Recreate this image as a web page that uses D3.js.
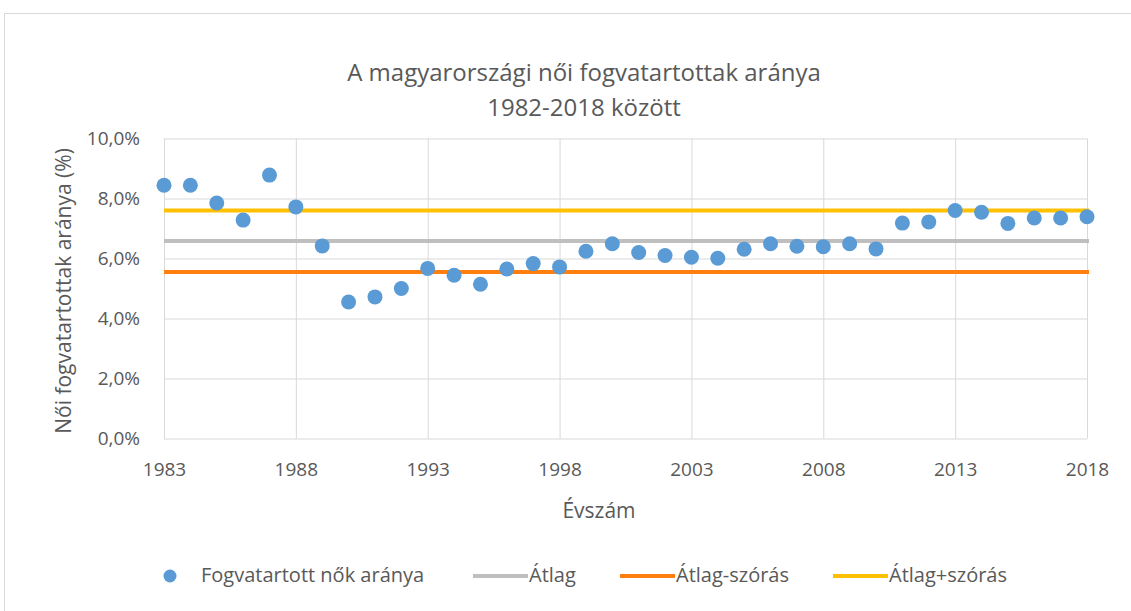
<!DOCTYPE html>
<html><head><meta charset="utf-8">
<script src="https://cdn.jsdelivr.net/npm/d3@7"></script>
<style>body{margin:0;background:#fff}text{font-family:"Open Sans",sans-serif;fill:#595959}</style>
</head><body><svg id="c" width="1131" height="611"></svg>
<script>
const years = d3.range(1983, 2019);
const values = [8.44,8.44,7.85,7.28,8.78,7.72,6.42,4.55,4.72,5.0,5.67,5.44,5.14,5.65,5.83,5.72,
  6.24,6.49,6.2,6.1,6.04,6.01,6.31,6.49,6.41,6.39,6.49,6.32,7.18,7.22,7.6,7.54,7.17,7.35,7.35,7.39];
const mean = 6.58, meanMinusSd = 5.55, meanPlusSd = 7.6;
const xTicks = [1983,1988,1993,1998,2003,2008,2013,2018];
const yTicks = [0,2,4,6,8,10];
const titleLines = ["A magyarországi női fogvatartottak aránya","1982-2018 között"];
const legendItems = ["Fogvatartott nők aránya","Átlag","Átlag-szórás","Átlag+szórás"];
const colors = {dot:"#5b9bd5", mean:"#bfbfbf", minus:"#ff7f0e", plus:"#ffc000"};

const svg = d3.select("#c");
svg.append("rect").attr("x",4.5).attr("y",13.5).attr("width",1140).attr("height",620).attr("fill","none").attr("stroke","#d9d9d9");
const x = d3.scaleLinear().domain([1983,2018]).range([164,1087]);
const y = d3.scaleLinear().domain([0,10]).range([438.5,138.5]);

const fmt = v => d3.format(".1f")(v).replace(".",",")+"%";
const ga = svg.append("g").attr("transform","translate(0,438.5)")
  .call(d3.axisBottom(x).tickValues(xTicks).tickFormat(d3.format("d")).tickSize(-300).tickPadding(24));
ga.select(".domain").remove();
ga.selectAll("line").attr("stroke","#d9d9d9");
ga.selectAll("text").attr("font-size",19).style("fill","#595959");
const gy = svg.append("g").attr("transform","translate(164,0)")
  .call(d3.axisLeft(y).tickValues(yTicks).tickFormat(fmt).tickSize(-923).tickPadding(24));
gy.select(".domain").remove();
gy.selectAll("line").attr("stroke","#d9d9d9");
gy.selectAll("text").attr("font-size",19).style("fill","#595959");

const refs = [[mean,colors.mean],[meanMinusSd,colors.minus],[meanPlusSd,colors.plus]];
svg.selectAll(".ref").data(refs).join("line")
  .attr("x1",x(1983)).attr("x2",x(2018)+2).attr("y1",d=>y(d[0])).attr("y2",d=>y(d[0]))
  .attr("stroke",d=>d[1]).attr("stroke-width",4);

svg.selectAll(".pt").data(years).join("circle")
  .attr("cx",d=>x(d)).attr("cy",(d,i)=>y(values[i])).attr("r",7.5).attr("fill",colors.dot);

svg.append("text").attr("x",584).attr("y",81).attr("text-anchor","middle").attr("font-size",24).text(titleLines[0]);
svg.append("text").attr("x",584).attr("y",116).attr("text-anchor","middle").attr("font-size",24).text(titleLines[1]);
svg.append("text").attr("x",599).attr("y",518).attr("text-anchor","middle").attr("font-size",21).text("Évszám");
svg.append("text").attr("transform","translate(71,291) rotate(-90)").attr("text-anchor","middle").attr("font-size",21).text("Női fogvatartottak aránya (%)");

const lg = svg.append("g");
lg.append("circle").attr("cx",170).attr("cy",576).attr("r",6.5).attr("fill",colors.dot);
lg.append("text").attr("x",201).attr("y",582).attr("font-size",20).text(legendItems[0]);
const lineItems = [[473,colors.mean,legendItems[1]],[620,colors.minus,legendItems[2]],[833,colors.plus,legendItems[3]]];
lineItems.forEach(([lx,c,t])=>{
  lg.append("line").attr("x1",lx).attr("x2",lx+55).attr("y1",576).attr("y2",576).attr("stroke",c).attr("stroke-width",4);
  lg.append("text").attr("x",lx+56).attr("y",582).attr("font-size",20).text(t);
});
</script></body></html>
